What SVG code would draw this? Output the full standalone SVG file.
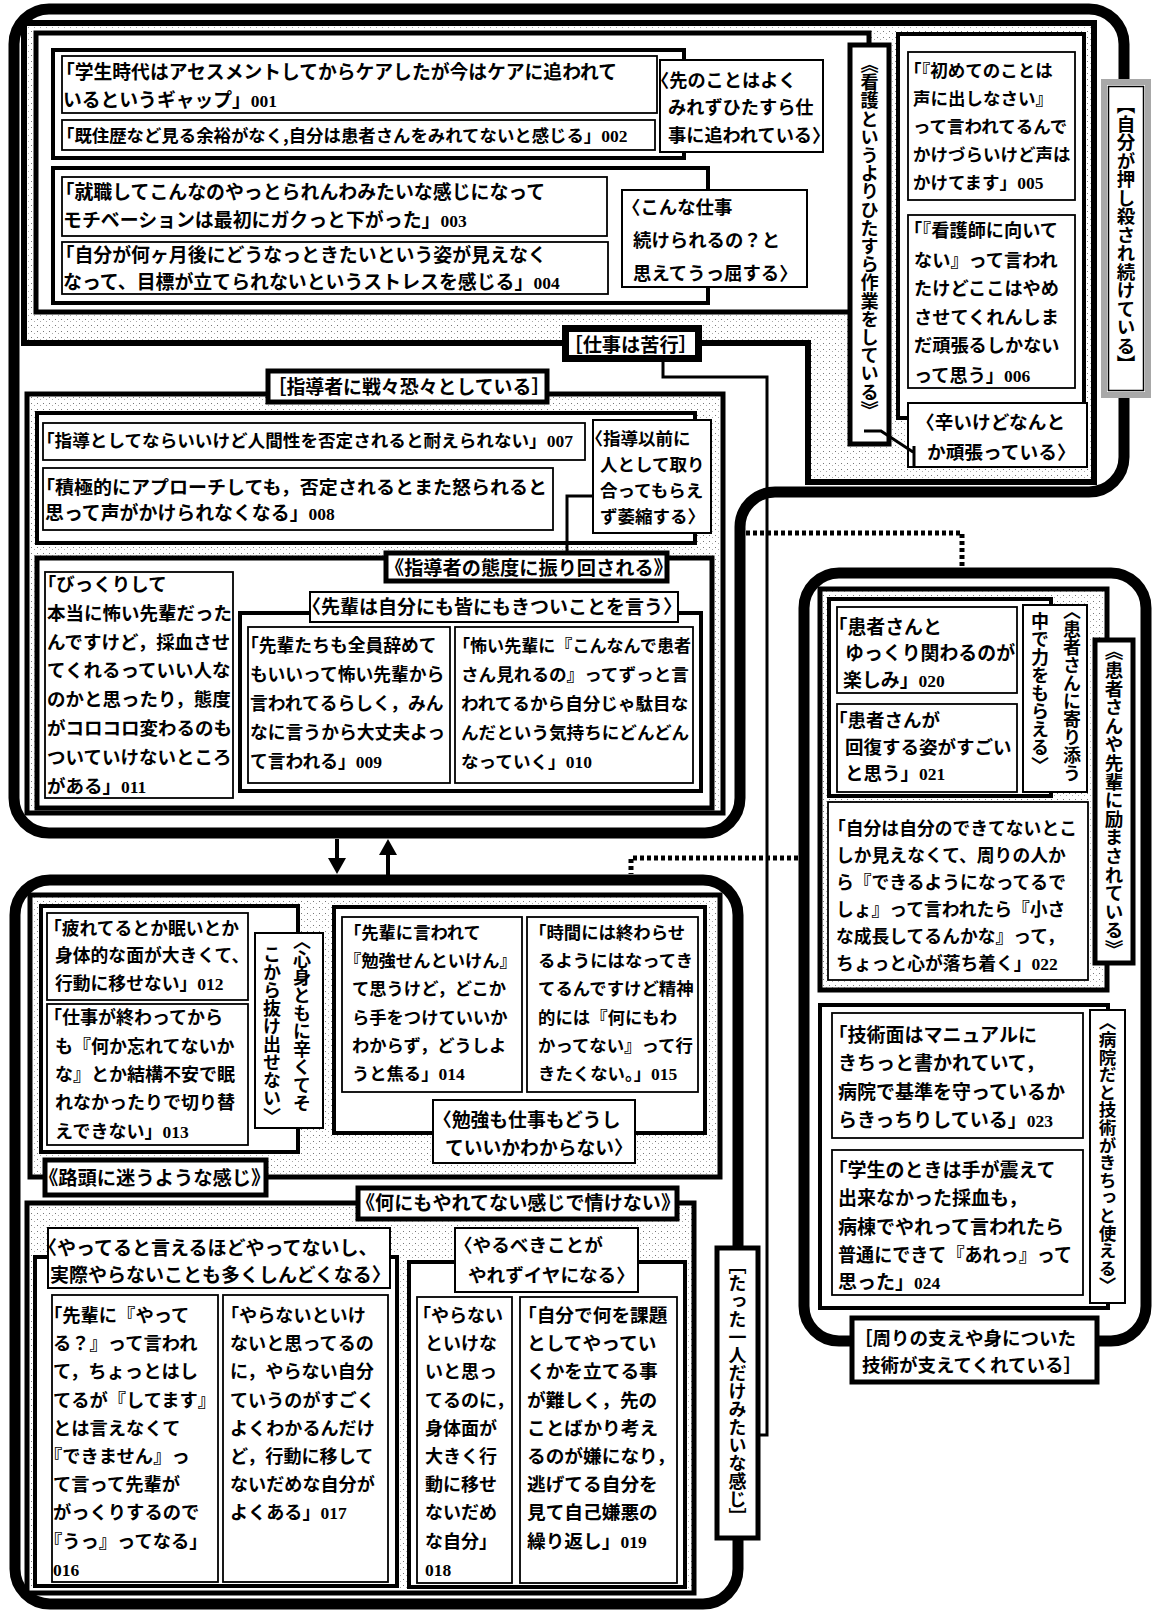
<svg xmlns="http://www.w3.org/2000/svg" width="1157" height="1613" viewBox="0 0 1157 1613">
<defs>
<pattern id="dots" width="6" height="6" patternUnits="userSpaceOnUse">
<rect width="6" height="6" fill="#fff"/>
<rect x="1" y="1" width="1" height="1" fill="#777"/>
<rect x="4" y="3" width="1" height="1" fill="#aaa"/>
</pattern>
<marker id="ah" viewBox="0 0 16 18" refX="12" refY="9" markerWidth="16" markerHeight="18" markerUnits="userSpaceOnUse" orient="auto">
<path d="M0,0L16,9L0,18Z" fill="#000"/>
</marker>
<style>
.t{font-family:"Noto Sans CJK JP","Noto Sans CJK SC",sans-serif;font-weight:700;fill:#000}
.n{font-family:"Liberation Serif",serif;font-weight:700;font-size:17.5px}
.v{writing-mode:vertical-rl}
.card{fill:#fff;stroke:#000;stroke-width:1.8}
.tag{fill:#fff;stroke:#000;stroke-width:2}
.tagb{fill:#fff;stroke:#000;stroke-width:5}
.sub{fill:#fff;stroke:#000;stroke-width:4}
.sub5{fill:#fff;stroke:#000;stroke-width:5}
.mid{fill:url(#dots);stroke:#000;stroke-width:5}
.big{fill:none;stroke:#000;stroke-width:11}
.con{fill:none;stroke:#000;stroke-width:3}
.dash{fill:none;stroke:#000;stroke-width:5;stroke-dasharray:4 3}
.arr{fill:none;stroke:#000;stroke-width:4;marker-end:url(#ah)}
</style>
</defs>
<rect width="1157" height="1613" fill="#fff"/>

<!-- ===== frames ===== -->
<g id="f-oshikorosare"><path class="big" d="M49,9H1089A35,35 0 0 1 1124,44V457A35,35 0 0 1 1089,492H775A35,35 0 0 0 740,527V798A35,35 0 0 1 705,833H49A35,35 0 0 1 14,798V44A35,35 0 0 1 49,9Z"/></g>
<g id="f-shigoto"><path class="mid" style="stroke-width:6" d="M24,23H1094V482H808V343H24Z"/></g>
<g id="f-kango"><rect class="sub5" x="36" y="33" width="833" height="279"/></g>
<g id="f-saki"><rect class="sub" x="53" y="50" width="631" height="108"/></g>
<g id="f-konna"><rect class="sub" x="53" y="168" width="655" height="135"/></g>
<g id="f-tsurai"><rect class="sub" x="898" y="34" width="186" height="384"/></g>

<g id="f-shidousha"><rect class="mid" x="27" y="394" width="696" height="419"/></g>
<g id="f-izen"><rect class="sub" x="37" y="413" width="658" height="130"/></g>
<g id="f-taido"><rect class="sub5" x="37" y="558" width="675" height="250"/></g>
<g id="f-senpai"><rect class="sub" x="240" y="613" width="461" height="178"/></g>

<g id="f-hitori"><path class="big" d="M50,880H703A35,35 0 0 1 738,915V1569A35,35 0 0 1 703,1604H50A35,35 0 0 1 15,1569V915A35,35 0 0 1 50,880Z"/></g>
<g id="f-rotou"><rect class="mid" x="30" y="895" width="690" height="282"/></g>
<g id="f-shinshin"><rect class="sub" x="41" y="906" width="257" height="246"/></g>
<g id="f-benkyou"><rect class="sub" x="334" y="907" width="371" height="226"/></g>
<g id="f-nanimo"><rect class="mid" x="27" y="1203" width="667" height="390"/></g>
<g id="f-itteru"><rect class="sub" x="35" y="1257" width="362" height="329"/></g>
<g id="f-yarubeki"><rect class="sub" x="409" y="1262" width="276" height="325"/></g>

<g id="f-mawari"><rect class="big" x="804" y="573" width="342" height="768" rx="35"/></g>
<g id="f-hagemasare"><rect class="mid" x="820" y="589" width="287" height="401"/></g>
<g id="f-yorisou"><rect class="sub" x="829" y="599" width="222" height="197"/></g>
<g id="f-byouin"><rect class="sub" x="820" y="1005" width="288" height="303"/></g>

<!-- ===== cards ===== -->
<g id="n001"><rect class="card" x="62" y="56" width="595" height="57"/>
<text class="t" font-size="18.8"><tspan x="56" y="79">「学生時代はアセスメントしてからケアしたが今はケアに追われて</tspan><tspan x="63" y="107">いるというギャップ」<tspan class="n">001</tspan></tspan></text></g>
<g id="n002"><rect class="card" x="62" y="120" width="593" height="30"/>
<text class="t" font-size="17.4" x="57" y="142">「既住歴など見る余裕がなく,自分は患者さんをみれてないと感じる」<tspan class="n">002</tspan></text></g>
<g id="n003"><rect class="card" x="62" y="177" width="545" height="59"/>
<text class="t" font-size="18.9"><tspan x="55.5" y="199">「就職してこんなのやっとられんわみたいな感じになって</tspan><tspan x="63" y="227">モチベーションは最初にガクっと下がった」<tspan class="n">003</tspan></tspan></text></g>
<g id="n004"><rect class="card" x="62" y="242" width="546" height="52"/>
<text class="t" font-size="18.9"><tspan x="55.5" y="262">「自分が何ヶ月後にどうなっときたいという姿が見えなく</tspan><tspan x="63" y="289">なって、目標が立てられないというストレスを感じる」<tspan class="n">004</tspan></tspan></text></g>
<g id="n005"><rect class="card" x="908" y="52" width="167" height="148"/>
<text class="t" font-size="17.5"><tspan x="904" y="77">「『初めてのことは</tspan><tspan x="913" y="105">声に出しなさい』</tspan><tspan x="913" y="133">って言われてるんで</tspan><tspan x="913" y="161">かけづらいけど声は</tspan><tspan x="913" y="189">かけてます」<tspan class="n">005</tspan></tspan></text></g>
<g id="n006"><rect class="card" x="908" y="215" width="167" height="173"/>
<text class="t" font-size="18.2"><tspan x="904" y="237">「『看護師に向いて</tspan><tspan x="914" y="267">ない』って言われ</tspan><tspan x="914" y="295">たけどここはやめ</tspan><tspan x="914" y="324">させてくれんしま</tspan><tspan x="914" y="352">だ頑張るしかない</tspan><tspan x="914" y="382">って思う」<tspan class="n">006</tspan></tspan></text></g>

<g id="n007"><rect class="card" x="43" y="423" width="542" height="37"/>
<text class="t" font-size="17.6" x="37" y="447">「指導としてならいいけど人間性を否定されると耐えられない」<tspan class="n">007</tspan></text></g>
<g id="n008"><rect class="card" x="43" y="468" width="510" height="62"/>
<text class="t" font-size="18.5" x="36" y="494" textLength="511" lengthAdjust="spacingAndGlyphs">「積極的にアプローチしても，否定されるとまた怒られると</text>
<text class="t" font-size="18.9" x="45" y="520">思って声がかけられなくなる」<tspan class="n">008</tspan></text></g>
<g id="n011"><rect class="card" x="45" y="572" width="188" height="226"/>
<text class="t" font-size="18.5"><tspan x="37.75" y="591">「びっくりして</tspan><tspan x="47" y="620">本当に怖い先輩だった</tspan><tspan x="47" y="649">んですけど，採血させ</tspan><tspan x="47" y="677">てくれるっていい人な</tspan><tspan x="47" y="706">のかと思ったり，態度</tspan><tspan x="47" y="735">がコロコロ変わるのも</tspan><tspan x="47" y="764">ついていけないところ</tspan><tspan x="47" y="793">がある」<tspan class="n">011</tspan></tspan></text></g>
<g id="n009"><rect class="card" x="248" y="627" width="202" height="156"/>
<text class="t" font-size="17.8"><tspan x="241" y="652">「先輩たちも全員辞めて</tspan><tspan x="250" y="681">もいいって怖い先輩から</tspan><tspan x="250" y="710">言われてるらしく，みん</tspan><tspan x="250" y="739">なに言うから大丈夫よっ</tspan><tspan x="250" y="768">て言われる」<tspan class="n">009</tspan></tspan></text></g>
<g id="n010"><rect class="card" x="455" y="627" width="238" height="156"/>
<text class="t" font-size="17.6" x="453" y="652" textLength="238" lengthAdjust="spacingAndGlyphs">「怖い先輩に『こんなんで患者</text>
<text class="t" font-size="17.6"><tspan x="461" y="681">さん見れるの』ってずっと言</tspan><tspan x="461" y="710">われてるから自分じゃ駄目な</tspan><tspan x="461" y="739">んだという気持ちにどんどん</tspan><tspan x="461" y="768">なっていく」<tspan class="n">010</tspan></tspan></text></g>

<g id="n012"><rect class="card" x="47" y="913" width="201" height="87"/>
<text class="t" font-size="17.8"><tspan x="44" y="935">「疲れてるとか眠いとか</tspan><tspan x="55" y="962">身体的な面が大きくて、</tspan><tspan x="55" y="990">行動に移せない」<tspan class="n">012</tspan></tspan></text></g>
<g id="n013"><rect class="card" x="47" y="1004" width="201" height="141"/>
<text class="t" font-size="18"><tspan x="44" y="1024">「仕事が終わってから</tspan><tspan x="55" y="1053">も『何か忘れてないか</tspan><tspan x="55" y="1081">な』とか結構不安で眠</tspan><tspan x="55" y="1109">れなかったりで切り替</tspan><tspan x="55" y="1138">えできない」<tspan class="n">013</tspan></tspan></text></g>
<g id="n014"><rect class="card" x="342" y="917" width="180" height="175"/>
<text class="t" font-size="17.3"><tspan x="344" y="939">「先輩に言われて</tspan><tspan x="344" y="967">『勉強せんといけん』</tspan><tspan x="352" y="995">て思うけど，どこか</tspan><tspan x="352" y="1024">ら手をつけていいか</tspan><tspan x="352" y="1052">わからず，どうしよ</tspan><tspan x="352" y="1080">うと焦る」<tspan class="n">014</tspan></tspan></text></g>
<g id="n015"><rect class="card" x="527" y="917" width="171" height="175"/>
<text class="t" font-size="17.4"><tspan x="529" y="939">「時間には終わらせ</tspan><tspan x="538" y="967">るようにはなってき</tspan><tspan x="538" y="995">てるんですけど精神</tspan><tspan x="538" y="1024">的には『何にもわ</tspan><tspan x="538" y="1052">かってない』って行</tspan><tspan x="538" y="1080">きたくない。」<tspan class="n">015</tspan></tspan></text></g>

<g id="n016"><rect class="card" x="52" y="1295" width="166" height="287"/>
<text class="t" font-size="18.3"><tspan x="44" y="1322">「先輩に『やって</tspan><tspan x="53" y="1350">る？』って言われ</tspan><tspan x="53" y="1378">て，ちょっとはし</tspan><tspan x="53" y="1407">てるが『してます』</tspan><tspan x="53" y="1435">とは言えなくて</tspan><tspan x="44" y="1463">『できません』っ</tspan><tspan x="53" y="1491">て言って先輩が</tspan><tspan x="53" y="1519">がっくりするので</tspan><tspan x="44" y="1548">『うっ』ってなる」</tspan><tspan class="n" x="53" y="1576">016</tspan></text></g>
<g id="n017"><rect class="card" x="223" y="1295" width="165" height="287"/>
<text class="t" font-size="18.1"><tspan x="221" y="1322">「やらないといけ</tspan><tspan x="230" y="1350">ないと思ってるの</tspan><tspan x="230" y="1378">に，やらない自分</tspan><tspan x="230" y="1407">ていうのがすごく</tspan><tspan x="230" y="1435">よくわかるんだけ</tspan><tspan x="230" y="1463">ど，行動に移して</tspan><tspan x="230" y="1491">ないだめな自分が</tspan><tspan x="230" y="1519">よくある」<tspan class="n">017</tspan></tspan></text></g>
<g id="n018"><rect class="card" x="417" y="1297" width="95" height="286"/>
<text class="t" font-size="18"><tspan x="413" y="1322">「やらない</tspan><tspan x="425" y="1350">といけな</tspan><tspan x="425" y="1378">いと思っ</tspan><tspan x="425" y="1407">てるのに，</tspan><tspan x="425" y="1435">身体面が</tspan><tspan x="425" y="1463">大きく行</tspan><tspan x="425" y="1491">動に移せ</tspan><tspan x="425" y="1519">ないだめ</tspan><tspan x="425" y="1548">な自分」</tspan><tspan class="n" x="425" y="1576">018</tspan></text></g>
<g id="n019"><rect class="card" x="520" y="1297" width="157" height="286"/>
<text class="t" font-size="18.7"><tspan x="518" y="1322">「自分で何を課題</tspan><tspan x="527" y="1350">としてやってい</tspan><tspan x="527" y="1378">くかを立てる事</tspan><tspan x="527" y="1407">が難しく，先の</tspan><tspan x="527" y="1435">ことばかり考え</tspan><tspan x="527" y="1463">るのが嫌になり，</tspan><tspan x="527" y="1491">逃げてる自分を</tspan><tspan x="527" y="1519">見て自己嫌悪の</tspan><tspan x="527" y="1548">繰り返し」<tspan class="n">019</tspan></tspan></text></g>

<g id="n020"><rect class="card" x="837" y="607" width="180" height="86"/>
<text class="t" font-size="18.9"><tspan x="828.5" y="634">「患者さんと</tspan><tspan x="845" y="660">ゆっくり関わるのが</tspan><tspan x="843" y="687">楽しみ」<tspan class="n">020</tspan></tspan></text></g>
<g id="n021"><rect class="card" x="837" y="704" width="180" height="88"/>
<text class="t" font-size="18.5"><tspan x="829" y="727">「患者さんが</tspan><tspan x="845" y="754">回復する姿がすごい</tspan><tspan x="845" y="780">と思う」<tspan class="n">021</tspan></tspan></text></g>
<g id="n022"><rect class="card" x="828" y="802" width="260" height="178"/>
<text class="t" font-size="17.8"><tspan x="828" y="835">「自分は自分のできてないとこ</tspan><tspan x="836" y="862">しか見えなくて、周りの人か</tspan><tspan x="836" y="889">ら『できるようになってるで</tspan><tspan x="836" y="916">しょ』って言われたら『小さ</tspan><tspan x="836" y="943">な成長してるんかな』って，</tspan><tspan x="836" y="970">ちょっと心が落ち着く」<tspan class="n">022</tspan></tspan></text></g>
<g id="n023"><rect class="card" x="832" y="1013" width="251" height="125"/>
<text class="t" font-size="19"><tspan x="828.5" y="1042">「技術面はマニュアルに</tspan><tspan x="838" y="1070">きちっと書かれていて，</tspan><tspan x="838" y="1099">病院で基準を守っているか</tspan><tspan x="838" y="1127">らきっちりしている」<tspan class="n">023</tspan></tspan></text></g>
<g id="n024"><rect class="card" x="832" y="1150" width="251" height="145"/>
<text class="t" font-size="19"><tspan x="828.5" y="1177">「学生のときは手が震えて</tspan><tspan x="838" y="1205">出来なかった採血も，</tspan><tspan x="838" y="1234">病棟でやれって言われたら</tspan><tspan x="838" y="1289">思った」<tspan class="n">024</tspan></tspan></text>
<text class="t" font-size="19" x="838" y="1262" textLength="234" lengthAdjust="spacingAndGlyphs">普通にできて『あれっ』って</text></g>

<!-- ===== labels ===== -->
<g id="l-saki"><rect class="tag" x="660" y="60" width="163" height="92"/>
<text class="t" font-size="18.2"><tspan x="651" y="87">〈先のことはよく</tspan><tspan x="668" y="114">みれずひたすら仕</tspan><tspan x="668" y="142">事に追われている〉</tspan></text></g>
<g id="l-konna"><rect class="tag" x="622" y="190" width="185" height="97"/>
<text class="t" font-size="18.4"><tspan x="622" y="214">〈こんな仕事</tspan><tspan x="633" y="247">続けられるの？と</tspan><tspan x="633" y="280">思えてうっ屈する〉</tspan></text></g>
<g id="l-kango"><rect class="tagb" x="850" y="45" width="39" height="399"/>
<text class="t v" font-size="18.2" x="869.5" y="55">《看護というよりひたすら作業をしている》</text></g>
<g id="l-tsurai"><rect class="tag" x="908" y="403" width="179" height="64"/>
<text class="t" font-size="18.7"><tspan x="916" y="429">〈辛いけどなんと</tspan><tspan x="927" y="459">か頑張っている〉</tspan></text></g>
<g id="l-oshikorosare"><rect x="1104" y="82" width="44" height="313" fill="#fff" stroke="#a8a8a8" stroke-width="6"/><rect x="1108.5" y="86.5" width="35" height="304" fill="none" stroke="#000" stroke-width="1.5"/>
<text class="t v" font-size="18.5" x="1126" y="96">【自分が押し殺され続けている】</text></g>
<g id="l-shigoto"><rect class="tagb" style="stroke-width:7" x="565.5" y="328.5" width="133" height="30"/>
<text class="t" font-size="19.2" x="563.5" y="352">［仕事は苦行］</text></g>

<g id="l-shidousha"><rect class="tagb" x="268" y="371" width="279" height="31"/>
<text class="t" font-size="18.9" x="267.5" y="394">［指導者に戦々恐々としている］</text></g>
<g id="l-izen"><rect class="tag" x="593" y="420" width="118" height="113"/>
<text class="t" font-size="17.5"><tspan x="585.5" y="445">〈指導以前に</tspan><tspan x="600" y="471">人として取り</tspan><tspan x="600" y="497">合ってもらえ</tspan><tspan x="600" y="523">ず萎縮する〉</tspan></text></g>
<g id="l-taido"><rect class="tagb" x="386" y="553" width="281" height="28"/>
<text class="t" font-size="19.2" x="385" y="575">《指導者の態度に振り回される》</text></g>
<g id="l-senpai"><rect class="tag" x="310" y="592" width="368" height="30"/>
<text class="t" font-size="19" x="302" y="614">〈先輩は自分にも皆にもきついことを言う〉</text></g>

<g id="l-shinshin"><rect class="tag" x="255" y="933" width="68" height="195"/>
<text class="t v" font-size="18" x="302" y="932">〈心身ともに辛くてそ</text>
<text class="t v" font-size="18" x="272" y="945">こから抜け出せない〉</text></g>
<g id="l-benkyou"><rect class="tag" x="433" y="1100" width="202" height="63"/>
<text class="t" font-size="18.8"><tspan x="433" y="1127">〈勉強も仕事もどうし</tspan><tspan x="445" y="1155">ていいかわからない〉</tspan></text></g>
<g id="l-rotou"><rect class="tagb" x="45" y="1160" width="221" height="35"/>
<text class="t" font-size="19.3" x="39" y="1185">《路頭に迷うような感じ》</text></g>
<g id="l-nanimo"><rect class="tagb" x="358" y="1188" width="319" height="31"/>
<text class="t" font-size="19.1" x="356" y="1210">《何にもやれてない感じで情けない》</text></g>
<g id="l-itteru"><rect class="tag" x="48" y="1228" width="342" height="60"/>
<text class="t" font-size="19"><tspan x="38" y="1255">〈やってると言えるほどやってないし、</tspan><tspan x="50" y="1282">実際やらないことも多くしんどくなる〉</tspan></text></g>
<g id="l-yarubeki"><rect class="tag" x="455" y="1228" width="183" height="64"/>
<text class="t" font-size="18.6"><tspan x="454" y="1252">〈やるべきことが</tspan><tspan x="468" y="1282">やれずイヤになる〉</tspan></text></g>
<g id="l-hitori"><rect class="tagb" x="717" y="1248" width="41" height="290"/>
<text class="t v" font-size="18" x="737.5" y="1256">［たった一人だけみたいな感じ］</text></g>

<g id="l-yorisou"><rect class="tag" x="1023" y="605" width="64" height="187"/>
<text class="t v" font-size="18" x="1072" y="602">〈患者さんに寄り添う</text>
<text class="t v" font-size="18" x="1040" y="612">中で力をもらえる〉</text></g>
<g id="l-hagemasare"><rect class="tagb" x="1095" y="640" width="38" height="323"/>
<text class="t v" font-size="18.6" x="1114" y="642">《患者さんや先輩に励まされている》</text></g>
<g id="l-byouin"><rect class="tag" x="1090" y="1010" width="35" height="293"/>
<text class="t v" font-size="17.6" x="1107.5" y="1013">〈病院だと技術がきちっと使える〉</text></g>
<g id="l-mawari"><rect class="tagb" x="852" y="1318" width="245" height="64"/>
<text class="t" font-size="18.5"><tspan x="854" y="1345">［周りの支えや身についた</tspan><tspan x="862" y="1372">技術が支えてくれている］</tspan></text></g>

<!-- ===== connectors ===== -->
<g id="connectors">
<polyline class="con" points="663,362 663,377 767,377 767,1435 758,1435"/>
<path class="con" d="M864,431H881L913,452M914,446V466"/>
<polyline class="con" points="593,496 567,496 567,553"/>
<polyline class="dash" points="746,533 962,533 962,567"/>
<polyline class="dash" points="798,858 631,858 631,874"/>
<line class="arr" x1="337" y1="839" x2="337" y2="870"/>
<line class="arr" x1="388" y1="875" x2="388" y2="843"/>
</g>
</svg>
